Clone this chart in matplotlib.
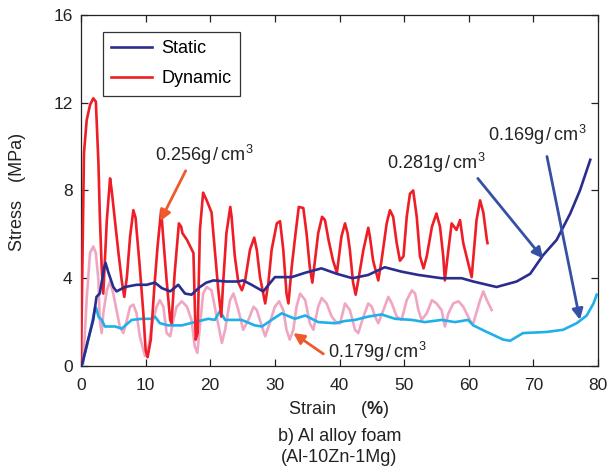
import matplotlib
matplotlib.use("Agg")
import matplotlib.pyplot as plt

plt.rcParams['font.family'] = ['Liberation Sans', 'Noto Sans CJK SC', 'DejaVu Sans']
plt.rcParams['mathtext.fontset'] = 'custom'
plt.rcParams['mathtext.rm'] = 'Liberation Sans'
plt.rcParams['mathtext.bf'] = 'Liberation Sans:bold'

# Static, 0.281 g/cm3 (dark blue)
static_hi_x = [0, 0.2, 1.1, 1.9, 2.4, 2.9, 3.6, 3.8, 4.2, 5.0, 5.5, 6.8, 8.6, 10.15, 11.45,
               12.5, 13.8, 15.05, 16.1, 17.1, 18.4, 19.4, 20.5, 22.5, 24.3, 25.1, 26.4, 28.2,
               30.0, 32.6, 34.7, 37.2, 39.6, 42.0, 44.45, 47.0, 49.6, 52.2, 55.8, 58.9, 60.7,
               64.3, 67.4, 69.5, 71.5, 73.6, 75.7, 77.2, 78.8]
static_hi_y = [0, 0.1, 1.2, 2.1, 3.15, 3.3, 4.5, 4.7, 4.3, 3.6, 3.4, 3.6, 3.7, 3.7, 3.8,
               3.55, 3.4, 3.7, 3.3, 3.25, 3.6, 3.8, 3.9, 3.85, 3.85, 3.9, 3.7, 3.4,
               4.05, 4.05, 4.25, 4.45, 4.2, 4.0, 4.15, 4.5, 4.3, 4.15, 4.0, 4.0, 3.85,
               3.6, 3.85, 4.2, 5.05, 5.75, 6.95, 8.0, 9.4]

# Static, 0.169 g/cm3 (light blue)
static_lo_x = [0, 0.1, 0.9, 1.6, 2.2, 2.4, 2.7, 3.2, 3.7, 5.3, 6.3, 7.85, 9.4, 10.9, 11.45,
               12.2, 13.5, 15.6, 17.6, 19.7, 20.7, 21.5, 22.3, 24.85, 26.9, 28.0, 29.5, 31.05,
               33.1, 34.7, 36.7, 39.3, 40.85, 42.4, 44.45, 46.5, 48.6, 51.2, 53.2, 55.8, 57.85,
               59.9, 60.7, 62.8, 65.35, 66.4, 68.4, 72.05, 74.6, 76.7, 78.25, 79.3, 79.8]
static_lo_y = [0, 0.0, 0.9, 1.8, 2.7, 2.6, 2.25, 2.1, 1.8, 1.8, 1.7, 2.1, 2.15, 2.15, 2.25,
               1.95, 1.85, 1.85, 2.0, 2.15, 2.1, 2.5, 2.1, 2.1, 1.85, 1.8, 2.1, 2.4,
               2.15, 2.3, 2.0, 1.95, 2.05, 2.1, 2.25, 2.35, 2.15, 2.1, 2.0, 2.1, 2.0,
               2.1, 1.85, 1.55, 1.2, 1.15, 1.5, 1.55, 1.65, 1.95, 2.3, 2.85, 3.25]

# Dynamic, 0.256 g/cm3 (red)
dyn_hi_x = [0, 0.46, 0.88, 1.4, 1.9, 2.3, 2.7, 2.9, 3.2, 3.45, 4.0, 4.5, 4.75, 5.3, 5.8,
            6.3, 6.7, 7.1, 7.6, 8.1, 8.45, 8.6, 9.1, 9.65, 10.0, 10.3, 10.8, 11.35, 11.85,
            12.4, 12.75, 13.25, 13.8, 14.0, 14.5, 15.15, 15.5, 15.7, 16.4, 17.4, 17.75, 18.05,
            18.4, 18.9, 19.45, 20.2, 20.7, 21.25, 21.7, 22.0, 22.5, 23.1, 23.3, 23.8, 24.35,
            24.9, 25.4, 26.15, 26.8, 27.2, 27.7, 28.5, 29.0, 29.5, 30.3, 30.8, 31.3, 31.8,
            32.1, 32.6, 33.2, 33.7, 34.4, 34.9, 35.4, 35.8, 36.2, 36.7, 37.3, 37.75, 38.3,
            39.0, 39.6, 40.3, 40.85, 41.25, 41.6, 42.1, 42.5, 42.9, 43.7, 44.45, 44.7, 45.2,
            46.0, 46.5, 47.3, 47.8, 48.3, 48.85, 49.35, 49.9, 50.4, 50.9, 51.4, 51.95, 52.45,
            53.0, 53.5, 54.3, 55.0, 55.55, 56.05, 56.3, 56.85, 57.35, 58.1, 58.65, 59.15,
            59.9, 60.45, 61.2, 61.75, 62.25, 62.8, 62.9]
dyn_hi_y = [0, 9.7, 11.2, 11.9, 12.2, 12.05, 9.25, 7.0, 4.5, 3.3, 6.65, 8.55, 8.0, 6.5, 5.15,
            3.9, 3.15, 4.05, 5.9, 7.1, 6.75, 6.2, 4.5, 2.4, 0.73, 0.4, 1.2, 3.6, 5.45,
            7.1, 5.75, 3.9, 2.1, 1.95, 4.25, 6.5, 6.35, 6.05, 5.75, 5.15, 1.2, 1.5,
            6.2, 7.9, 7.55, 7.0, 5.3, 3.45, 2.25, 3.8, 6.05, 7.25, 6.8, 5.0, 3.8,
            3.45, 3.9, 5.3, 5.85, 5.3, 4.05, 2.85, 3.8, 5.3, 6.5, 6.6, 5.3, 3.3,
            2.85, 4.5, 6.05, 7.25, 7.2, 6.05, 4.5, 3.8, 4.8, 6.05, 6.8, 6.65, 5.75,
            4.8, 4.25, 5.9, 6.5, 6.05, 5.3, 3.8, 3.25, 3.9, 5.3, 6.3, 5.9, 4.8,
            3.9, 4.8, 6.5, 7.1, 6.8, 5.6, 4.8, 5.0, 6.8, 7.85, 8.0, 6.8, 5.0,
            4.45, 5.0, 6.35, 6.95, 6.35, 5.0, 3.9, 5.3, 6.5, 6.2, 6.65, 5.6,
            4.7, 4.05, 6.65, 7.55, 7.0, 5.75, 5.6]

# Dynamic, 0.179 g/cm3 (pink)
dyn_lo_x = [0, 0.35, 0.9, 1.4, 1.9, 2.3, 2.7, 2.9, 3.2, 3.45, 4.0, 4.5, 5.0, 5.5, 6.0,
            6.55, 7.1, 7.6, 8.1, 8.6, 9.1, 9.9, 10.4, 10.9, 11.7, 12.2, 12.75, 13.25, 13.8,
            14.3, 14.8, 15.6, 16.4, 17.1, 17.6, 18.0, 18.4, 18.9, 19.45, 20.2, 21.0, 21.8,
            22.3, 23.05, 23.6, 24.35, 25.1, 25.9, 26.7, 27.2, 28.0, 28.5, 29.2, 30.0, 30.65,
            31.3, 31.8, 32.3, 32.85, 33.35, 33.9, 34.7, 35.4, 35.95, 36.7, 37.25, 38.0, 38.8,
            39.6, 40.1, 40.85, 41.6, 42.4, 42.9, 43.7, 44.45, 45.0, 45.5, 46.0, 46.8, 47.55,
            48.1, 48.85, 49.6, 50.4, 51.2, 51.7, 52.2, 52.7, 53.5, 54.3, 55.0, 55.8, 56.3,
            56.85, 57.6, 58.4, 59.15, 59.9, 60.45, 60.7, 61.75, 62.25, 62.8, 63.3, 63.55]
dyn_lo_y = [0, 0.1, 3.15, 5.15, 5.45, 5.15, 3.9, 2.1, 1.5, 2.4, 3.45, 3.85, 3.3, 2.55, 1.8,
            1.5, 2.1, 2.7, 2.8, 2.4, 1.35, 0.45, 0.75, 1.8, 2.7, 3.0, 2.7, 1.5, 1.35,
            2.1, 2.7, 2.95, 2.7, 2.1, 0.9, 0.6, 1.8, 3.3, 3.6, 3.45, 2.25, 1.05,
            1.65, 3.0, 3.3, 2.55, 1.65, 2.1, 2.7, 2.55, 1.8, 1.35, 1.95, 2.7, 2.95,
            2.55, 1.65, 1.2, 1.65, 2.7, 3.3, 3.0, 1.95, 1.65, 2.7, 3.1, 2.85, 2.25,
            1.95, 1.95, 2.85, 2.55, 1.65, 1.5, 2.25, 2.85, 2.7, 2.25, 1.95, 2.55, 3.15,
            2.85, 2.25, 2.1, 3.0, 3.45, 3.3, 2.55, 2.1, 2.4, 3.0, 2.85, 2.55, 1.8,
            2.4, 2.85, 2.95, 2.7, 2.25, 1.95, 1.95, 3.0, 3.4, 3.0, 2.7, 2.55]

x_ticks = [0, 10, 20, 30, 40, 50, 60, 70, 80]
y_ticks = [0, 4, 8, 12, 16]

C_STATIC = '#2b2d8e'
C_DYN = '#ee1d26'
C_PINK = '#f0a6c2'
C_CYAN = '#1fb0ea'
C_ARROW_BLUE = '#3550a5'
C_ARROW_ORANGE = '#ee5a2c'
C_TEXT = '#222222'

fig = plt.figure(figsize=(6.08, 4.68), dpi=100)
ax = fig.add_axes([0.1332, 0.218, 0.8504, 0.750])

LW = 1.9
ax.plot(dyn_lo_x, dyn_lo_y, color=C_PINK, lw=LW, zorder=2)
ax.plot(static_lo_x, static_lo_y, color=C_CYAN, lw=LW, zorder=3)
ax.plot(dyn_hi_x, dyn_hi_y, color=C_DYN, lw=LW, zorder=4)
ax.plot(static_hi_x, static_hi_y, color=C_STATIC, lw=LW, zorder=5)

ax.set_xlim(0, 80)
ax.set_ylim(0, 16)
ax.set_xticks(x_ticks)
ax.set_yticks(y_ticks)
ax.tick_params(direction='in', top=True, right=True, length=5, width=0.9,
               labelsize=12.5, colors=C_TEXT, pad=6)
ax.tick_params(axis='x', pad=9)
for s in ax.spines.values():
    s.set_linewidth(0.9)
    s.set_color(C_TEXT)

# axis titles and caption
fig.text(0.028, 0.590, 'Stress\u3000(MPa)', rotation=90, ha='center', va='center',
         fontsize=13, color=C_TEXT)
fig.text(0.556, 0.126, r'Strain     ($\mathbf{\%}$)', ha='center', va='center',
         fontsize=13, color=C_TEXT)
fig.text(0.558, 0.067, 'b) Al alloy foam', ha='center', va='center', fontsize=13, color=C_TEXT)
fig.text(0.558, 0.022, '(Al-10Zn-1Mg)', ha='center', va='center', fontsize=13, color=C_TEXT)

# legend
h1, = ax.plot([], [], color=C_STATIC, lw=LW, label='Static')
h2, = ax.plot([], [], color=C_DYN, lw=LW, label='Dynamic')
leg = ax.legend(handles=[h1, h2], loc='upper left', bbox_to_anchor=(0.042, 0.952),
                fontsize=13, frameon=True, fancybox=False, framealpha=1,
                edgecolor='#333333', handlelength=2.3, borderpad=0.45,
                labelspacing=0.75, handletextpad=0.5, borderaxespad=0)
leg.get_frame().set_linewidth(0.9)

# density labels and arrows
lbl_kw = dict(fontsize=13, color=C_TEXT, va='center', ha='left')
ax.text(11.4, 9.6, r'0.256g$\,$/$\,$cm$^3$', **lbl_kw)
ax.text(47.3, 9.25, r'0.281g$\,$/$\,$cm$^3$', **lbl_kw)
ax.text(63.0, 10.55, r'0.169g$\,$/$\,$cm$^3$', **lbl_kw)
ax.text(38.2, 0.62, r'0.179g$\,$/$\,$cm$^3$', **lbl_kw)

def arrow(tail, head, color):
    ax.annotate('', xy=head, xytext=tail,
                arrowprops=dict(arrowstyle='-|>', color=color, lw=2.0,
                                mutation_scale=16, shrinkA=0, shrinkB=0), zorder=6)

arrow((16.2, 8.9), (12.25, 6.6), C_ARROW_ORANGE)
arrow((37.5, 0.55), (32.85, 1.5), C_ARROW_ORANGE)
arrow((61.4, 8.55), (71.5, 4.9), C_ARROW_BLUE)
arrow((72.1, 9.55), (77.2, 2.1), C_ARROW_BLUE)

fig.savefig('out.png', dpi=100)
